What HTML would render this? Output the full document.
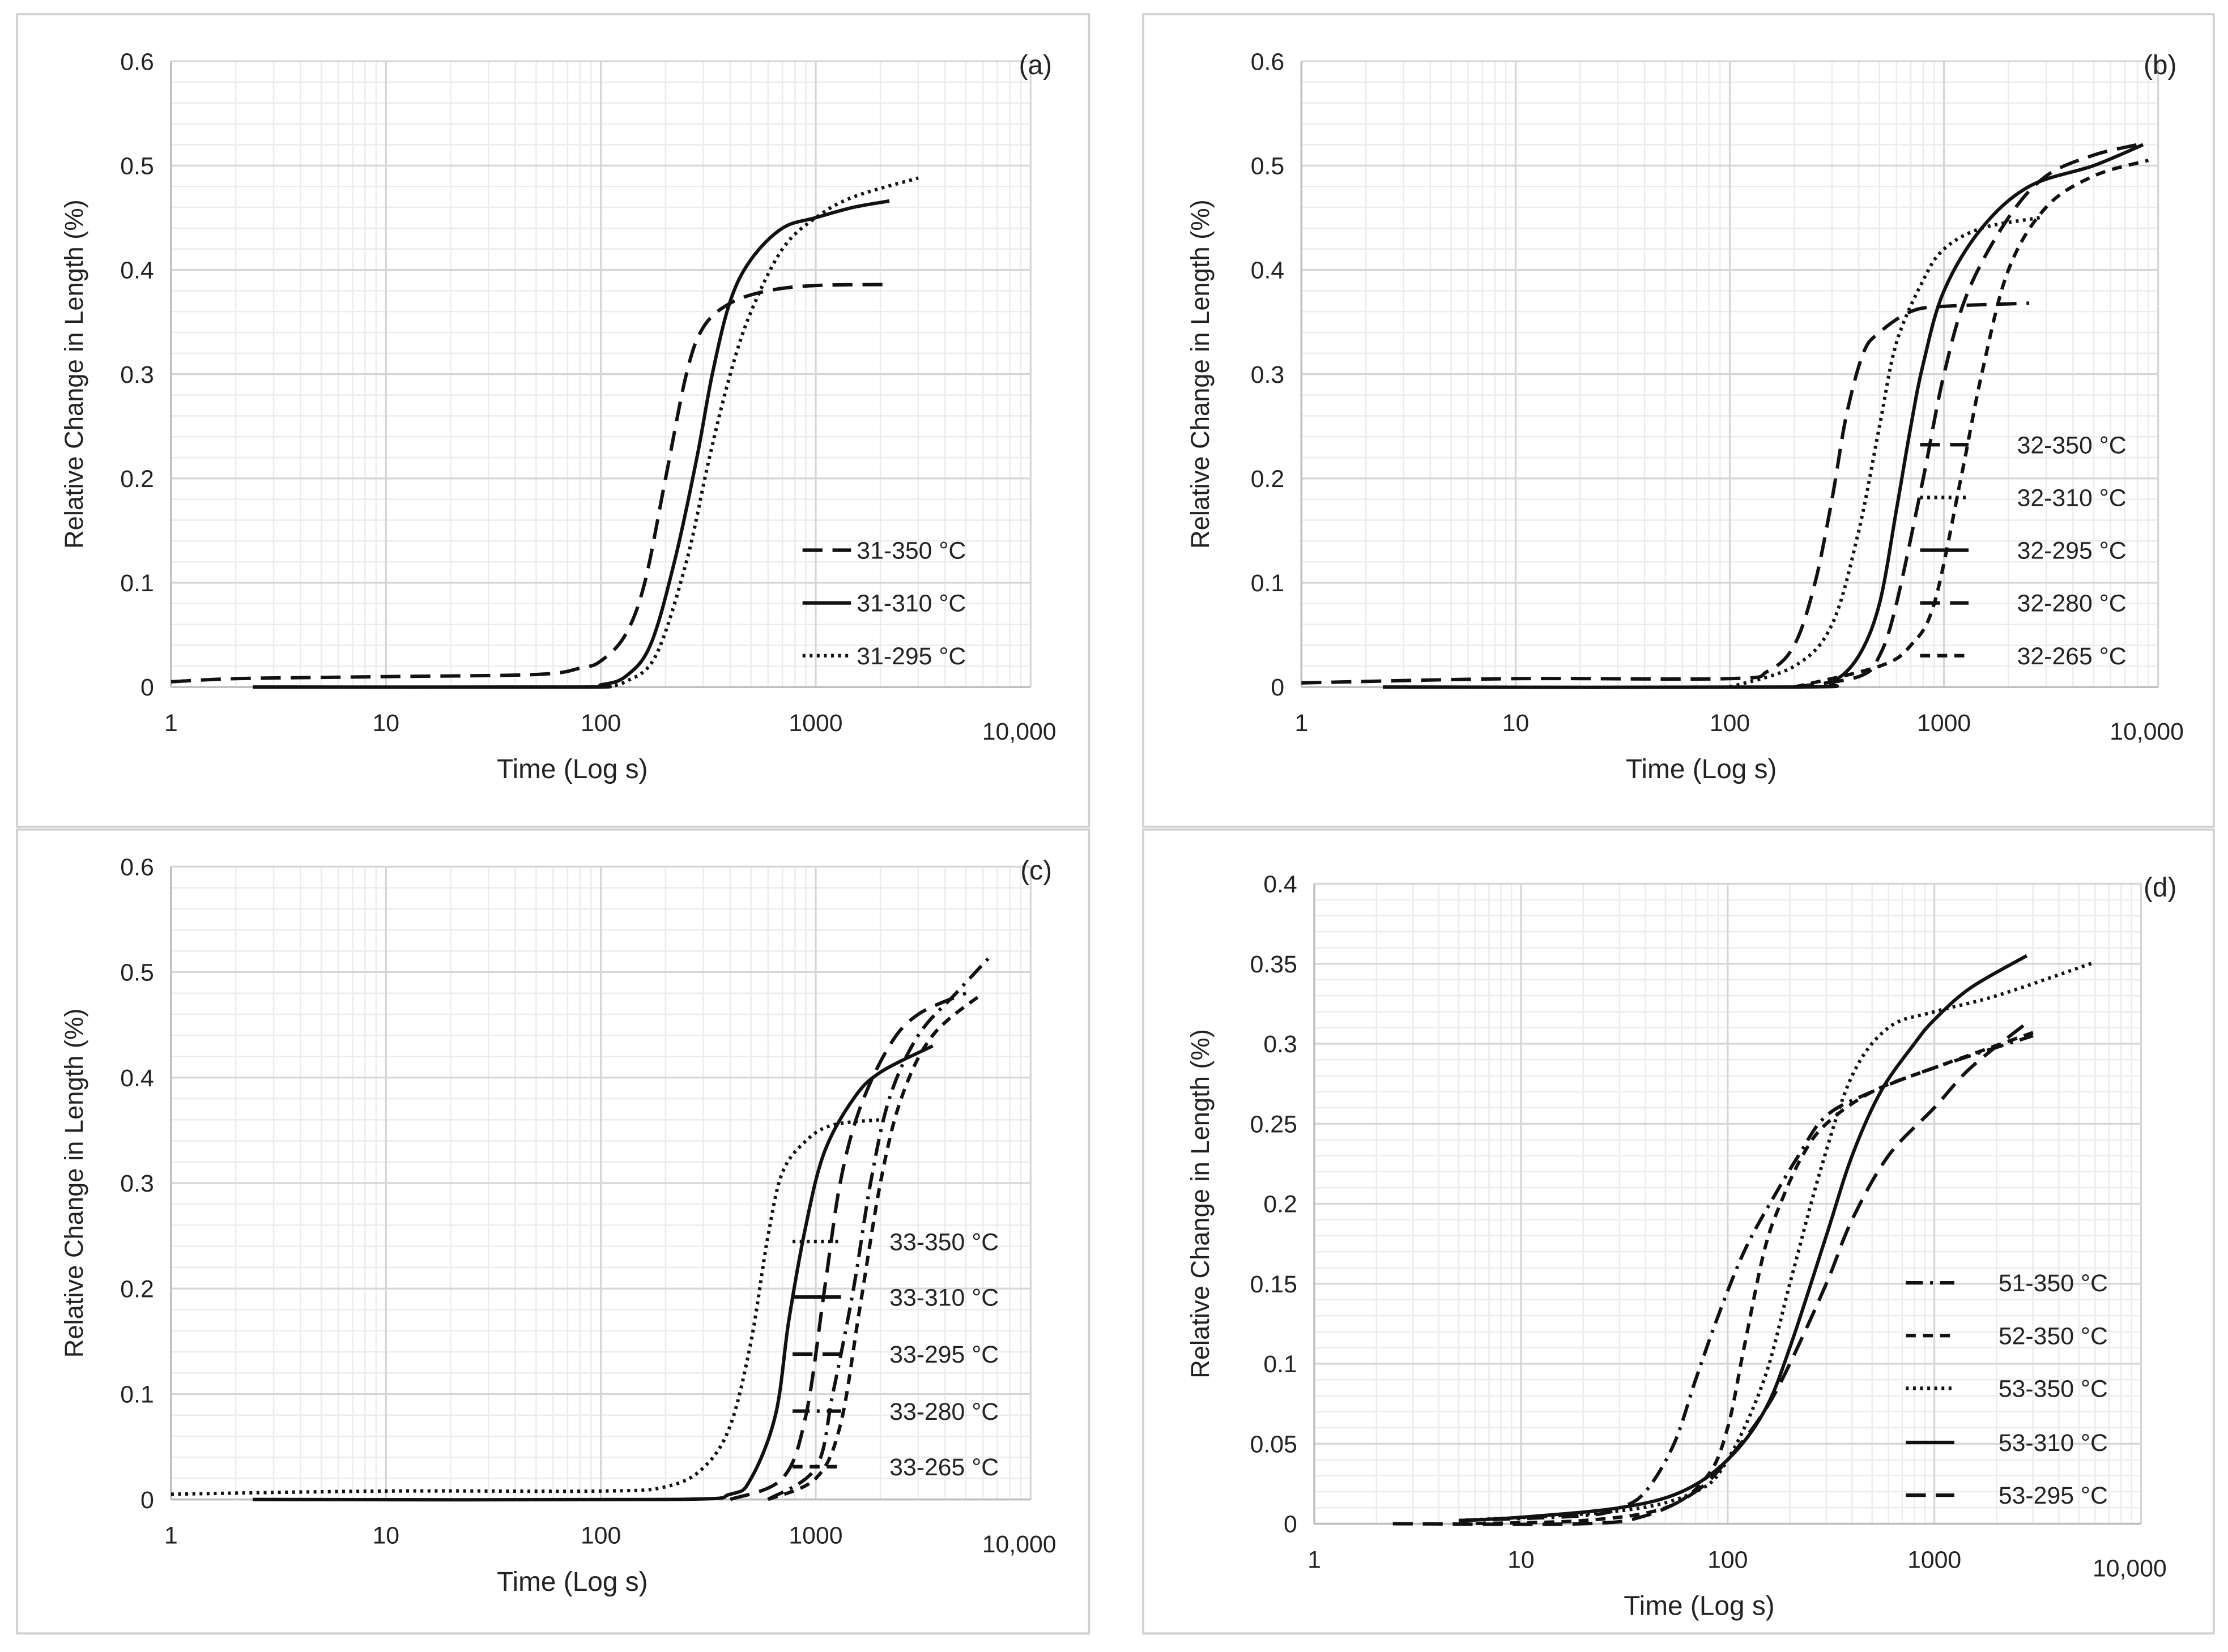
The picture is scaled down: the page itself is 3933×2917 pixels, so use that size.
<!DOCTYPE html>
<html><head><meta charset="utf-8"><style>
html,body{margin:0;padding:0;background:#fff}
svg{display:block}
text{font-family:"Liberation Sans",sans-serif;fill:#222}
</style></head><body>
<svg id="fig" width="3933" height="2917" viewBox="0 0 1563 1159" preserveAspectRatio="none" xmlns="http://www.w3.org/2000/svg"></svg>
<script>
// ---- data ----
const labelsA=["31-350 °C","31-310 °C","31-295 °C"];
const a350=[[1,0.005],[2,0.008],[10,0.01],[50,0.012],[80,0.018],[100,0.025],[130,0.05],[160,0.1],[200,0.2],[250,0.3],[300,0.345],[400,0.368],[600,0.38],[1000,0.385],[2200,0.386]];
const a310=[[2.4,0],[80,0],[100,0.002],[130,0.01],[170,0.04],[220,0.12],[280,0.22],[330,0.3],[400,0.37],[500,0.41],[700,0.44],[1000,0.45],[1500,0.46],[2200,0.466]];
const a295=[[100,0],[130,0.005],[180,0.03],[250,0.12],[320,0.22],[400,0.3],[500,0.36],[700,0.42],[1000,0.45],[1500,0.47],[3000,0.488]];
const labelsB=["32-350 °C","32-310 °C","32-295 °C","32-280 °C","32-265 °C"];
const b350=[[1,0.004],[10,0.008],[100,0.008],[150,0.015],[200,0.04],[250,0.1],[300,0.18],[350,0.26],[420,0.32],[500,0.34],[700,0.36],[1000,0.365],[2500,0.368]];
const b310=[[100,0],[200,0.02],[300,0.06],[400,0.15],[500,0.25],[600,0.33],[800,0.39],[1000,0.42],[1500,0.44],[2800,0.45]];
const b295=[[2.4,0],[200,0],[300,0.005],[400,0.03],[500,0.08],[600,0.17],[700,0.25],[800,0.31],[1000,0.38],[1500,0.44],[2500,0.48],[5000,0.5],[8500,0.52]];
const b280=[[200,0],[400,0.01],[500,0.03],[600,0.08],[800,0.2],[1000,0.3],[1300,0.38],[2000,0.45],[3000,0.49],[5000,0.51],[8000,0.52]];
const b265=[[200,0],[500,0.02],[700,0.04],[900,0.08],[1200,0.2],[1500,0.3],[2000,0.4],[3000,0.46],[5000,0.49],[9000,0.505]];
const labelsC=["33-350 °C","33-310 °C","33-295 °C","33-280 °C","33-265 °C"];
const c350=[[1,0.005],[10,0.008],[100,0.008],[200,0.012],[300,0.03],[400,0.07],[500,0.15],[600,0.25],[700,0.31],[900,0.34],[1200,0.355],[2000,0.36]];
const c310=[[2.4,0],[200,0],[400,0.005],[500,0.02],[650,0.08],[750,0.17],[900,0.26],[1100,0.33],[1500,0.38],[2000,0.405],[3500,0.43]];
const c295=[[400,0],[700,0.02],[900,0.08],[1100,0.2],[1300,0.3],[1600,0.37],[2200,0.43],[3000,0.46],[5000,0.48]];
const c280=[[600,0],[1000,0.03],[1200,0.1],[1500,0.2],[1800,0.3],[2200,0.38],[3000,0.44],[4500,0.48],[6500,0.515]];
const c265=[[600,0],[1000,0.02],[1300,0.07],[1600,0.18],[2000,0.3],[2500,0.38],[3500,0.44],[6000,0.48]];
const labelsD=["51-350 °C","52-350 °C","53-350 °C","53-310 °C","53-295 °C"];
const d51=[[5,0.002],[20,0.005],[30,0.01],[40,0.02],[55,0.05],[70,0.09],[90,0.13],[120,0.17],[160,0.2],[220,0.23],[300,0.255],[500,0.27],[1000,0.285],[3000,0.305]];
const d52=[[5,0],[20,0.002],[50,0.01],[80,0.03],[100,0.06],[120,0.11],[150,0.17],[180,0.2],[230,0.23],[300,0.25],[500,0.27],[1000,0.285],[3000,0.307]];
const d53a=[[5,0.002],[30,0.008],[70,0.02],[100,0.04],[150,0.09],[200,0.15],[280,0.22],[400,0.28],[600,0.31],[1000,0.32],[2000,0.33],[6000,0.351]];
const d53b=[[5,0.002],[10,0.004],[30,0.01],[60,0.02],[100,0.04],[150,0.07],[200,0.11],[300,0.18],[400,0.23],[550,0.27],[800,0.3],[1000,0.315],[1500,0.335],[2800,0.355]];
const d53c=[[2.4,0],[20,0],[40,0.005],[70,0.02],[100,0.04],[150,0.07],[200,0.1],[300,0.15],[400,0.19],[600,0.23],[1000,0.26],[1500,0.285],[2800,0.313]];
const xTicks=["1","10","100","1000","10,000"];
const yTicks6=["0","0.1","0.2","0.3","0.4","0.5","0.6"];
const yTicks4=["0","0.05","0.1","0.15","0.2","0.25","0.3","0.35","0.4"];

const NS="http://www.w3.org/2000/svg";
const svg=document.getElementById('fig');
function el(tag,attrs,parent){const e=document.createElementNS(NS,tag);for(const k in attrs)e.setAttribute(k,attrs[k]);(parent||svg).appendChild(e);return e;}
const DASH={long:"14,7",short:"7,5",dot:"2,3",solid:"",dashdot:"12,5,2,5"};
function smooth(pts){
  let d='M'+pts[0][0].toFixed(1)+','+pts[0][1].toFixed(1);
  for(let i=0;i<pts.length-1;i++){
    const p0=pts[Math.max(0,i-1)],p1=pts[i],p2=pts[i+1],p3=pts[Math.min(pts.length-1,i+2)];
    const c1=[p1[0]+(p2[0]-p0[0])/6,p1[1]+(p2[1]-p0[1])/6];
    const c2=[p2[0]-(p3[0]-p1[0])/6,p2[1]-(p3[1]-p1[1])/6];
    d+='C'+c1.map(v=>v.toFixed(1)).join(',')+' '+c2.map(v=>v.toFixed(1)).join(',')+' '+p2[0].toFixed(1)+','+p2[1].toFixed(1);
  }
  return d;
}

function panel(cfg){
  const g=el('g',{});
  
  
  const bd=el('rect',{x:cfg.bx,y:cfg.by,width:cfg.bw,height:cfg.bh,fill:'none',stroke:'#d0d0d0','stroke-width':1.5},g);
  
  const X=t=>cfg.x0+(cfg.x1-cfg.x0)*Math.log10(t)/4;
  const Y=v=>cfg.y0+(cfg.yTop-cfg.y0)*v/cfg.ymax;
  for(let d=0;d<4;d++)for(let m=2;m<=9;m++){const x=X(Math.pow(10,d)*m);
    el('line',{x1:x,x2:x,y1:cfg.yTop,y2:cfg.y0,stroke:'#ececec','stroke-width':1},g);}
  for(let v=cfg.minor;v<cfg.ymax-1e-9;v+=cfg.minor){const y=Y(v);
    el('line',{x1:cfg.x0,x2:cfg.x1,y1:y,y2:y,stroke:'#ececec','stroke-width':1},g);}
  cfg.yt.forEach((t,i)=>{const y=Y(parseFloat(t));
    el('line',{x1:cfg.x0,x2:cfg.x1,y1:y,y2:y,stroke:'#d6d6d6','stroke-width':1.3},g);
    const tx=el('text',{x:cfg.x0-12,y:y+6,'font-size':17,'text-anchor':'end'},g);tx.textContent=t;
    });
  xTicks.forEach((t,i)=>{const x=X(Math.pow(10,i));
    el('line',{x1:x,x2:x,y1:cfg.yTop,y2:cfg.y0,stroke:'#d6d6d6','stroke-width':1.3},g);
    const tx=el('text',{x:i==4?x-8:x,y:cfg.y0+(i==4?37:31),'font-size':17,'text-anchor':'middle'},g);tx.textContent=t;
    });
  el('line',{x1:cfg.x0,x2:cfg.x0,y1:cfg.yTop,y2:cfg.y0,stroke:'#bbb','stroke-width':1.3},g);
  el('line',{x1:cfg.x0,x2:cfg.x1,y1:cfg.y0,y2:cfg.y0,stroke:'#bbb','stroke-width':1.3},g);
  const xt=el('text',{x:(cfg.x0+cfg.x1)/2-20,y:cfg.y0+64,'font-size':19,'text-anchor':'middle'},g);xt.textContent='Time (Log s)';
  
  const yc=(cfg.yTop+cfg.y0)/2;
  const yt=el('text',{x:cfg.bx+46,y:yc,'font-size':18,'text-anchor':'middle',transform:`rotate(-90 ${cfg.bx+46} ${yc})`},g);yt.textContent='Relative Change in Length (%)';
  
  const pl=el('text',{x:cfg.bx+cfg.bw-26,y:cfg.yTop+9,'font-size':19,'text-anchor':'end'},g);pl.textContent=cfg.tag;
  
  cfg.series.forEach((s,i)=>{
    const p=el('path',{d:smooth(s.data.map(q=>[X(q[0]),Y(q[1])])),fill:'none',stroke:'#111','stroke-width':2.4,'stroke-dasharray':DASH[s.dash],'stroke-linejoin':'round'},g);
    
    
    const ly=cfg.ly[i];
    const lg=el('g',{},g);
    
    el('line',{x1:cfg.lx,x2:cfg.lx+34,y1:ly,y2:ly,stroke:'#111','stroke-width':2.5,'stroke-dasharray':DASH[s.dash]},lg);
    const lt=el('text',{x:cfg.lx+cfg.ltx,y:ly+6,'font-size':17},lg);lt.textContent=cfg.labels[i];
  });
}
panel({name:'panel-a',tag:'(a)',bx:12,by:10,bw:752,bh:570,x0:120,x1:723,y0:482,yTop:43,ymax:0.6,minor:0.02,yt:yTicks6,labels:labelsA,lx:563,ltx:38,ly:[386,423,460],
  series:[{data:a350,dash:'long'},{data:a310,dash:'solid'},{data:a295,dash:'dot'}]});
panel({name:'panel-b',tag:'(b)',bx:802,by:10,bw:751,bh:570,x0:913,x1:1514,y0:482,yTop:43,ymax:0.6,minor:0.02,yt:yTicks6,labels:labelsB,lx:1347,ltx:68,ly:[312,349,386,423,460],
  series:[{data:b350,dash:'long'},{data:b310,dash:'dot'},{data:b295,dash:'solid'},{data:b280,dash:'long'},{data:b265,dash:'short'}]});
panel({name:'panel-c',tag:'(c)',bx:12,by:582,bw:752,bh:564,x0:120,x1:723,y0:1052,yTop:608,ymax:0.6,minor:0.02,yt:yTicks6,labels:labelsC,lx:556,ltx:68,ly:[871,910,950,990,1029],
  series:[{data:c350,dash:'dot'},{data:c310,dash:'solid'},{data:c295,dash:'long'},{data:c280,dash:'dashdot'},{data:c265,dash:'short'}]});
panel({name:'panel-d',tag:'(d)',bx:802,by:582,bw:751,bh:564,x0:922,x1:1502,y0:1069,yTop:620,ymax:0.4,minor:0.01,yt:yTicks4,labels:labelsD,lx:1337,ltx:65,ly:[900,937,974,1012,1049],
  series:[{data:d51,dash:'dashdot'},{data:d52,dash:'short'},{data:d53a,dash:'dot'},{data:d53b,dash:'solid'},{data:d53c,dash:'long'}]});
</script>
</body></html>
